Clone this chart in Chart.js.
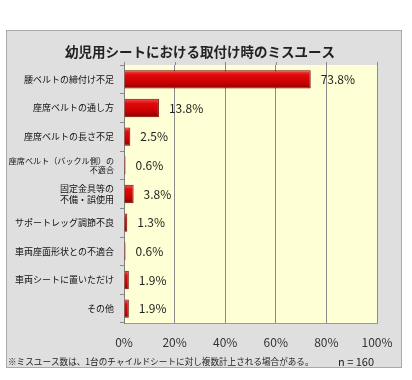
<!DOCTYPE html>
<html>
<head>
<meta charset="utf-8">
<script src="https://cdn.jsdelivr.net/npm/chart.js@4.4.1/dist/chart.umd.min.js"></script>
<style>
html,body{margin:0;padding:0;background:#fff;}
#wrap{width:412px;height:380px;position:relative;}
</style>
</head>
<body>
<div id="wrap"><canvas id="c" width="412" height="380"></canvas></div>
<script>
const titleText = '幼児用シートにおける取付け時のミスユース';
const categories = [
  '腰ベルトの締付け不足',
  '座席ベルトの通し方',
  '座席ベルトの長さ不足',
  ['座席ベルト（バックル側）の', '不適合'],
  ['固定金具等の', '不備・誤使用'],
  'サポートレッグ調節不良',
  '車両座面形状との不適合',
  '車両シートに置いただけ',
  'その他'
];
const values = [73.8, 13.8, 2.5, 0.6, 3.8, 1.3, 0.6, 1.9, 1.9];
const xTicks = [0, 20, 40, 60, 80, 100];
const footnote = '※ミスユース数は、1台のチャイルドシートに対し複数計上される場合がある。';
const sampleNote = 'n = 160';

const FONT = "'Noto Sans CJK JP', 'Noto Sans', sans-serif";

const framePlugin = {
  id: 'frame',
  beforeDraw(chart) {
    const ctx = chart.ctx;
    const a = chart.chartArea;
    ctx.save();
    ctx.fillStyle = '#ffffff';
    ctx.fillRect(0, 0, chart.width, chart.height);
    ctx.fillStyle = '#dfdfdf';
    ctx.fillRect(6, 30, 396, 338);
    ctx.strokeStyle = '#a9a9a9';
    ctx.lineWidth = 1;
    ctx.strokeRect(6.5, 30.5, 395, 337);
    ctx.fillStyle = '#ffffd6';
    ctx.fillRect(a.left, a.top, a.right - a.left, a.bottom - a.top);
    // small tick marks above the plot top
    const xs = chart.scales.x;
    ctx.strokeStyle = '#8a8a8a';
    xTicks.forEach(v => {
      const px = Math.round(xs.getPixelForValue(v)) + 0.5;
      ctx.beginPath();
      ctx.moveTo(px, a.top - 3);
      ctx.lineTo(px, a.top);
      ctx.stroke();
    });
    // title
    ctx.fillStyle = '#222';
    ctx.font = 'bold 13.5px ' + FONT;
    ctx.textAlign = 'center';
    ctx.textBaseline = 'middle';
    ctx.fillText(titleText, 200, 52);
    ctx.restore();
  },
  afterDraw(chart) {
    const ctx = chart.ctx;
    ctx.save();
    // value labels
    const meta = chart.getDatasetMeta(0);
    ctx.fillStyle = '#222';
    ctx.font = '12px ' + FONT;
    ctx.textAlign = 'left';
    ctx.textBaseline = 'middle';
    meta.data.forEach((bar, i) => {
      ctx.fillText(values[i].toFixed(1) + '%', bar.x + 10, bar.y);
    });
    // footnote
    ctx.font = '8.6px ' + FONT;
    ctx.fillStyle = '#222';
    ctx.fillText(footnote, 8, 362);
    ctx.font = '11px ' + FONT;
    ctx.fillText(sampleNote, 338, 362);
    ctx.restore();
  }
};

function barFill(context) {
  const chart = context.chart;
  const ys = chart.scales && chart.scales.y;
  if (!chart.chartArea || !ys) return '#d40000';
  const y = ys.getPixelForValue(context.dataIndex);
  const h = 9;
  const g = chart.ctx.createLinearGradient(0, y - h, 0, y + h);
  g.addColorStop(0, '#f05050');
  g.addColorStop(0.25, '#e00a0a');
  g.addColorStop(0.7, '#c80000');
  g.addColorStop(1, '#8a0000');
  return g;
}

new Chart(document.getElementById('c'), {
  type: 'bar',
  data: {
    labels: categories,
    datasets: [{
      data: values,
      backgroundColor: barFill,
      borderColor: '#7a0000',
      borderWidth: 1,
      barPercentage: 0.64,
      categoryPercentage: 1.0
    }]
  },
  options: {
    indexAxis: 'y',
    responsive: false,
    animation: false,
    devicePixelRatio: 1,
    layout: { padding: { left: 6, right: 35, top: 65, bottom: 31 } },
    plugins: {
      legend: { display: false },
      title: { display: false },
      tooltip: { enabled: false }
    },
    scales: {
      x: {
        min: 0, max: 100,
        afterBuildTicks(scale) { scale.ticks = xTicks.map(v => ({ value: v })); },
        afterFit(scale) { scale.height = 26; },
        grid: { color: '#8a8a8a', lineWidth: 1, drawTicks: false },
        border: { display: true, color: '#9a9a9a' },
        ticks: {
          padding: 12,
          color: '#333',
          font: { family: FONT, size: 12 },
          callback: v => v + '%'
        }
      },
      y: {
        afterFit(scale) { scale.width = 118; },
        grid: { display: true, drawOnChartArea: false, offset: true, tickLength: 4, color: '#8a8a8a' },
        border: { display: true, color: '#7f7f7f' },
        ticks: {
          padding: 6,
          color: '#111',
          font: (c) => ({ family: FONT, size: c.index === 3 ? 8.1 : 9, lineHeight: 1.2 })
        }
      }
    }
  },
  plugins: [framePlugin]
});
</script>
</body>
</html>
